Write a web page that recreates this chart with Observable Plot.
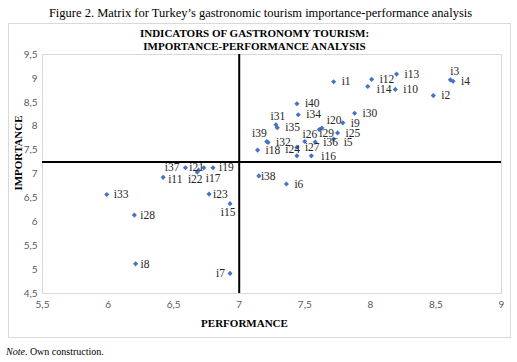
<!DOCTYPE html>
<html><head><meta charset="utf-8">
<script src="https://cdn.jsdelivr.net/npm/d3@7"></script>
<script src="https://cdn.jsdelivr.net/npm/@observablehq/plot@0.6"></script>
<style>
body{margin:0;background:#fff;}
#wrap{position:relative;width:517px;height:362px;}
#box{position:absolute;left:8px;top:23px;width:501px;height:313px;border:1px solid #d9d9d9;pointer-events:none;}
</style></head><body><div id="wrap"><div id="box"></div></div>
<script>
// ---- data ----
const indicators = ["i1","i2","i3","i4","i5","i6","i7","i8","i9","i10","i11","i12","i13","i14","i15","i16","i17","i18","i19","i20","i21","i22","i23","i24","i25","i26","i27","i28","i29","i30","i31","i32","i33","i34","i35","i36","i37","i38","i39","i40"];
const performance = [7.72,8.48,8.61,8.63,7.72,7.36,6.93,6.21,7.79,8.19,6.42,8.01,8.20,7.98,6.93,7.55,6.73,7.14,6.80,7.63,6.69,6.68,6.77,7.44,7.75,7.50,7.44,6.20,7.61,7.88,7.28,7.22,5.99,7.45,7.29,7.58,6.59,7.15,7.21,7.44];
const importance  = [8.93,8.64,8.97,8.94,7.73,6.79,4.92,5.12,8.07,8.77,6.93,8.98,9.09,8.83,6.38,7.38,7.13,7.50,7.13,7.96,7.08,7.04,6.58,7.38,7.86,7.68,7.56,6.14,7.93,8.27,8.03,7.66,6.57,8.24,7.97,7.67,7.13,6.96,7.68,8.47];
const xTicks = [5.5,6,6.5,7,7.5,8,8.5,9];
const yTicks = [4.5,5,5.5,6,6.5,7,7.5,8,8.5,9,9.5];
const performanceCut = [7];
const importanceCut = [7.25];
const figureCaption = ["Figure 2. Matrix for Turkey\u2019s gastronomic tourism importance-performance analysis"];
const titleLines = ["INDICATORS OF GASTRONOMY TOURISM:", "IMPORTANCE-PERFORMANCE ANALYSIS"];
const xTitle = ["PERFORMANCE"];
const yTitle = ["IMPORTANCE"];

// ---- label placement (layout only) ----
const placement = {
  i3:{a:"start",dx:0,dy:-9}, i14:{dx:9,dy:3}, i20:{dx:5,dy:-8}, i29:{dx:0,dy:4},
  i31:{a:"middle",dx:2,dy:-8}, i26:{a:"middle",dx:5,dy:-7}, i24:{a:"end",dx:3,dy:-7},
  i39:{a:"end",dx:0,dy:-8}, i37:{a:"end",dx:-6,dy:0}, i21:{a:"middle",dx:-2,dy:-3},
  i22:{a:"middle",dx:-2,dy:7}, i17:{a:"start",dx:2,dy:11}, i15:{a:"middle",dx:-2,dy:9},
  i7:{a:"end",dx:-5,dy:0}, i38:{dx:2}, i11:{dx:5,dy:2}, i23:{dx:4}, i19:{dx:6},
  i8:{dx:5}, i28:{dx:6}, i33:{dx:7}, i5:{dx:10,dy:3}, i16:{dx:10}
};

const rows = indicators.map((name,k)=>({name, p:performance[k], i:importance[k]}));
const place = n => Object.assign({a:"start",dx:8,dy:0}, placement[n]||{});
const groups = d3.groups(rows, r => { const q = place(r.name); return `${q.a}|${q.dx}|${q.dy}`; });
const fmt = d => String(d).replace(".", ",");
const serif = "Liberation Serif";

const labelMarks = groups.map(([key, data]) => {
  const [a,dx,dy] = key.split("|");
  return Plot.text(data, {x:"p", y:"i", text:"name", textAnchor:a, dx:+dx, dy:+dy,
    lineAnchor:"middle", fontFamily:serif, fontSize:11.5, fill:"#262626"});
});

const chart = Plot.plot({
  width:517, height:362,
  marginLeft:42, marginRight:16, marginTop:54, marginBottom:69,
  style:{fontFamily:"Lato", fontSize:"10px", color:"#595959", background:"transparent"},
  x:{domain:[5.5,9], ticks:xTicks, tickFormat:fmt, tickSize:0, tickPadding:7, label:null},
  y:{domain:[4.5,9.5], ticks:yTicks, tickFormat:fmt, tickSize:0, tickPadding:5, label:null},
  marks:[
    Plot.frame({stroke:"#d9d9d9"}),
    Plot.ruleY(importanceCut, {stroke:"#000", strokeWidth:2}),
    Plot.ruleX(performanceCut, {stroke:"#000", strokeWidth:2}),
    Plot.dot(rows, {x:"p", y:"i", symbol:"diamond2", r:2.3, fill:"#4472C4", stroke:null}),
    ...labelMarks,
    Plot.text(figureCaption, {frameAnchor:"top-left", dx:218, dy:-42, textAnchor:"middle", lineAnchor:"middle", fontFamily:serif, fontSize:12.5, fill:"#000"}),
    Plot.text([titleLines[0]], {frameAnchor:"top-left", dx:212, dy:-21, textAnchor:"middle", lineAnchor:"middle", fontFamily:serif, fontWeight:"bold", fontSize:11, fill:"#000"}),
    Plot.text([titleLines[1]], {frameAnchor:"top-left", dx:212, dy:-8, textAnchor:"middle", lineAnchor:"middle", fontFamily:serif, fontWeight:"bold", fontSize:11, fill:"#000"}),
    Plot.text(xTitle, {frameAnchor:"bottom-left", dx:202, dy:30, textAnchor:"middle", lineAnchor:"middle", fontFamily:serif, fontWeight:"bold", fontSize:11, fill:"#000"}),
    Plot.text(yTitle, {frameAnchor:"left", dx:-24, dy:-21, rotate:-90, textAnchor:"middle", lineAnchor:"middle", fontFamily:serif, fontWeight:"bold", fontSize:11, fill:"#000"})
  ]
});
chart.style.position = "absolute";
chart.style.left = "0px";
chart.style.top = "0px";
const wrap = document.getElementById("wrap");
wrap.insertBefore(chart, wrap.firstChild);

const note = document.createElement("div");
note.style.cssText = "position:absolute;left:6px;top:346px;font:10px 'Liberation Serif';color:#000;white-space:nowrap;";
note.innerHTML = "<i>Note</i>. Own construction.";
wrap.appendChild(note);
</script>
</body></html>
